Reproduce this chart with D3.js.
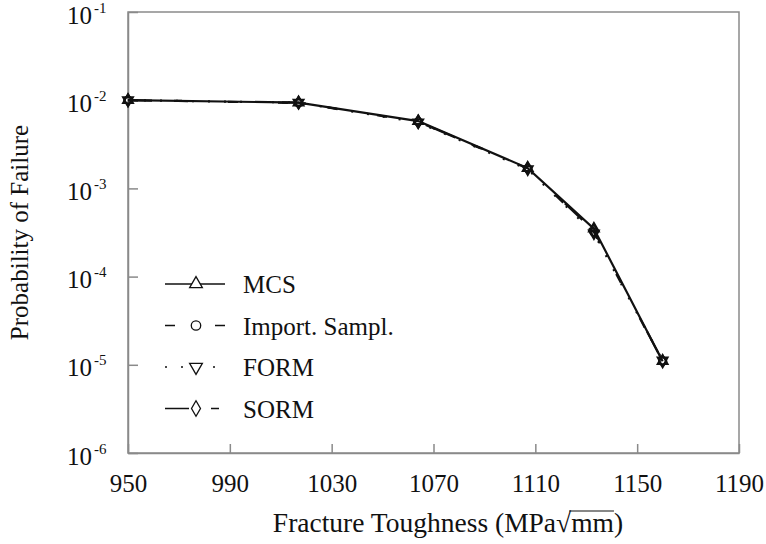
<!DOCTYPE html>
<html>
<head>
<meta charset="utf-8">
<script src="https://cdn.jsdelivr.net/npm/d3@7"></script>
<style>
  body { margin: 0; background: #fff; }
  text { font-family: "Liberation Serif", "Times New Roman", serif; fill: #111; }
</style>
</head>
<body>
<svg id="chart"></svg>
<script>
var width = 766,
    height = 544,
    margin = {top: 12, right: 27, bottom: 91, left: 128};

var toughness = [950, 1017, 1064, 1107, 1133, 1160];
var mcs = [1.0e-2, 9.4e-3, 5.8e-3, 1.70e-3, 3.5e-4, 1.10e-5];
var importSampl = [1.0e-2, 9.3e-3, 5.7e-3, 1.68e-3, 3.2e-4, 1.10e-5];
var form = [1.0e-2, 9.4e-3, 5.6e-3, 1.65e-3, 3.1e-4, 1.12e-5];
var sorm = [1.0e-2, 9.4e-3, 5.7e-3, 1.70e-3, 3.3e-4, 1.10e-5];
var xTicks = [950, 990, 1030, 1070, 1110, 1150, 1190];
var yTicks = [1e-1, 1e-2, 1e-3, 1e-4, 1e-5, 1e-6];
var yTickLabels = ['-1', '-2', '-3', '-4', '-5', '-6'];
var seriesNames = ['MCS', 'Import. Sampl.', 'FORM', 'SORM'];

var series = [
    {name: seriesNames[0], values: mcs, symbol: d3.symbolTriangle, rotate: 0, dash: null},
    {name: seriesNames[1], values: importSampl, symbol: d3.symbolCircle, rotate: 0, dash: '10,40'},
    {name: seriesNames[2], values: form, symbol: d3.symbolTriangle, rotate: 180, dash: '2,14'},
    {name: seriesNames[3], values: sorm, symbol: d3.symbolDiamond, rotate: 0, dash: '24,22,8,100'}
];

var svg = d3.select('svg#chart')
    .attr('width', width)
    .attr('height', height);

var plotW = width - margin.left - margin.right,
    plotH = height - margin.top - margin.bottom;

var g = svg.append('g')
    .attr('transform', 'translate(' + margin.left + ',' + margin.top + ')');

var x = d3.scaleLinear().domain([950, 1190]).range([0, plotW]);
var y = d3.scaleLog().domain([1e-6, 1e-1]).range([plotH, 0]);

// frame
g.append('rect')
    .attr('width', plotW)
    .attr('height', plotH)
    .attr('fill', 'none')
    .attr('stroke', '#8a8a8a')
    .attr('stroke-width', 1.5);

var xAxis = g.append('g')
    .attr('transform', 'translate(0,' + plotH + ')')
    .call(d3.axisBottom(x).tickValues(xTicks).tickFormat(d3.format('d'))
        .tickSizeInner(-9).tickSizeOuter(0));
xAxis.selectAll('text')
    .attr('y', 39)
    .attr('dy', 0)
    .attr('font-size', 25);

var yAxis = g.append('g')
    .call(d3.axisLeft(y).tickValues(yTicks).tickSizeInner(-10).tickSizeOuter(0));
yAxis.selectAll('text')
    .attr('x', -61)
    .attr('dy', 0)
    .attr('y', 11)
    .attr('text-anchor', 'start')
    .attr('font-size', 25)
    .text('10')
    .append('tspan')
    .attr('dy', -11)
    .attr('dx', 2)
    .attr('font-size', 15)
    .text(function(d, i) { return yTickLabels[i]; });

svg.selectAll('.domain, .tick line')
    .attr('stroke', '#8a8a8a')
    .attr('stroke-width', 1.5);

function symbolPath(s, size) {
    return d3.symbol().type(s.symbol).size(size)();
}

series.forEach(function(s) {
    var pts = s.values.map(function(v, i) { return [toughness[i], v]; });
    var line = d3.line()
        .x(function(d) { return x(d[0]); })
        .y(function(d) { return y(d[1]); });
    g.append('path')
        .datum(pts)
        .attr('d', line)
        .attr('fill', 'none')
        .attr('stroke', '#111')
        .attr('stroke-width', 2.2)
        .attr('stroke-dasharray', s.dash);
    g.selectAll(null)
        .data(pts)
        .enter().append('path')
        .attr('d', symbolPath(s, 45))
        .attr('transform', function(d) {
            return 'translate(' + x(d[0]) + ',' + y(d[1]) + ') rotate(' + s.rotate + ')';
        })
        .attr('fill', 'none')
        .attr('stroke', '#111')
        .attr('stroke-width', 1.8);
});

// legend
var legend = svg.append('g').attr('transform', 'translate(165,284)');
var row = legend.selectAll('g')
    .data(series)
    .enter().append('g')
    .attr('transform', function(d, i) { return 'translate(0,' + (i * 41.5) + ')'; });
row.append('line')
    .attr('x1', 0).attr('x2', 60)
    .attr('stroke', '#111')
    .attr('stroke-width', 1.5)
    .attr('stroke-dasharray', function(d) { return d.dash; });
row.append('path')
    .attr('d', function(d) { return symbolPath(d, 70); })
    .attr('transform', function(d) { return 'translate(31,0) rotate(' + d.rotate + ')'; })
    .attr('fill', 'white')
    .attr('stroke', '#111')
    .attr('stroke-width', 1.3);
row.append('text')
    .attr('x', 78)
    .attr('y', 9)
    .attr('font-size', 25)
    .text(function(d) { return d.name; });

// axis titles
var xTitle = svg.append('text')
    .attr('x', 448)
    .attr('y', 532)
    .attr('text-anchor', 'middle')
    .attr('font-size', 27.5);
xTitle.append('tspan').text('Fracture Toughness (MPa\u221A');
xTitle.append('tspan').text('mm');
xTitle.append('tspan').text(')');
var node = xTitle.node();
var full = node.textContent;
var start = node.getStartPositionOfChar(full.indexOf('mm'));
var end = node.getEndPositionOfChar(full.indexOf('mm') + 1);
svg.append('line')
    .attr('x1', start.x - 2).attr('x2', end.x)
    .attr('y1', 511).attr('y2', 511)
    .attr('stroke', '#111')
    .attr('stroke-width', 1.2);

svg.append('text')
    .attr('transform', 'translate(28,' + (margin.top + plotH / 2) + ') rotate(-90)')
    .attr('text-anchor', 'middle')
    .attr('font-size', 25)
    .text('Probability of Failure');
</script>
</body>
</html>
